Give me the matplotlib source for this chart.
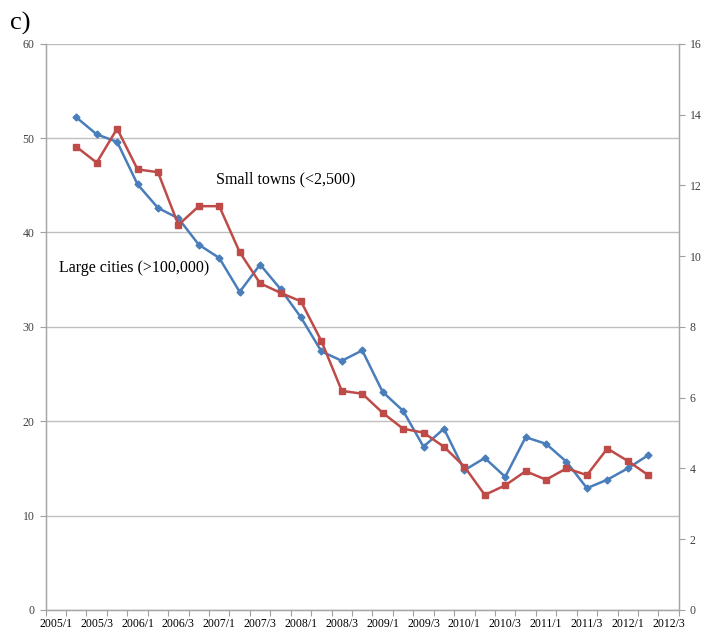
import matplotlib
matplotlib.use("Agg")
import matplotlib.pyplot as plt
from matplotlib.ticker import FixedLocator, MultipleLocator

plt.rcParams['font.family'] = ['Liberation Serif', 'DejaVu Serif']

# quarters on the category axis, 2005/1 .. 2012/3
quarters = [f"{y}/{q}" for y in range(2005, 2013) for q in range(1, 5)][:31]
shown_labels = ["2005/1", "2005/3", "2006/1", "2006/3", "2007/1", "2007/3",
                "2008/1", "2008/3", "2009/1", "2009/3", "2010/1", "2010/3",
                "2011/1", "2011/3", "2012/1", "2012/3"]

# series start at 2005/2 and end at 2012/2
data_quarters = quarters[1:30]

# large cities, left axis
large_cities = [52.2, 50.4, 49.6, 45.1, 42.6, 41.5, 38.7, 37.3, 33.7, 36.6,
                34.0, 31.0, 27.4, 26.4, 27.5, 23.1, 21.1, 17.3, 19.2, 14.8,
                16.1, 14.1, 18.3, 17.6, 15.7, 12.9, 13.8, 15.0, 16.4]
# small towns, right axis
small_towns = [13.09, 12.64, 13.60, 12.45, 12.37, 10.88, 11.41, 11.41, 10.11, 9.23,
               8.96, 8.72, 7.60, 6.19, 6.11, 5.57, 5.12, 5.01, 4.61, 4.05,
               3.25, 3.52, 3.92, 3.68, 4.00, 3.81, 4.56, 4.21, 3.81]

blue = '#4A7EBB'
red = '#BE4B48'
grey = '#BFBFBF'
tick_col = '#404040'

fig = plt.figure(figsize=(7.02, 6.34), dpi=100)
ax = fig.add_axes([0.065, 0.038, 0.902, 0.893])
ax2 = ax.twinx()

xpos = [quarters.index(q) for q in data_quarters]

ax.plot(xpos, large_cities, color=blue, lw=1.8, marker='D', ms=3.5,
        mec=blue, mfc=blue, zorder=3)
ax2.plot(xpos, small_towns, color=red, lw=1.8, marker='s', ms=3.8,
         mec=red, mfc=red, zorder=3)

ax.set_xlim(-0.5, len(quarters) - 0.5)
ax.set_ylim(0, 60)
ax2.set_ylim(0, 16)
ax.yaxis.set_major_locator(MultipleLocator(10))
ax2.yaxis.set_major_locator(MultipleLocator(2))
ax.grid(axis='y', color=grey, lw=1.0, zorder=0)
ax.set_axisbelow(True)

ax.set_xticks([quarters.index(l) for l in shown_labels])
ax.set_xticklabels(shown_labels)
ax.xaxis.set_minor_locator(FixedLocator([i - 0.5 for i in range(len(quarters) + 1)]))
ax.tick_params(axis='x', which='major', length=0, pad=6, labelsize=8.5, labelcolor='black')
ax.tick_params(axis='x', which='minor', length=4, color='#A0A0A0', width=0.8)
ax.tick_params(axis='y', length=4, color='#A0A0A0', labelsize=8.5, labelcolor=tick_col, pad=4)
ax2.tick_params(axis='y', length=4, color='#A0A0A0', labelsize=8.5, labelcolor=tick_col, pad=4)

for a in (ax, ax2):
    for s in a.spines.values():
        s.set_color('#A6A6A6')
        s.set_linewidth(0.9)
    a.spines['top'].set_visible(False)

ax.text(0.269, 0.76, 'Small towns (<2,500)', transform=ax.transAxes,
        fontsize=11.5, color='black', va='center')
ax.text(0.021, 0.604, 'Large cities (>100,000)', transform=ax.transAxes,
        fontsize=11.5, color='black', va='center')

fig.text(0.014, 0.963, 'c)', fontsize=19, color='black', va='center')

fig.savefig('out.png', dpi=100)
